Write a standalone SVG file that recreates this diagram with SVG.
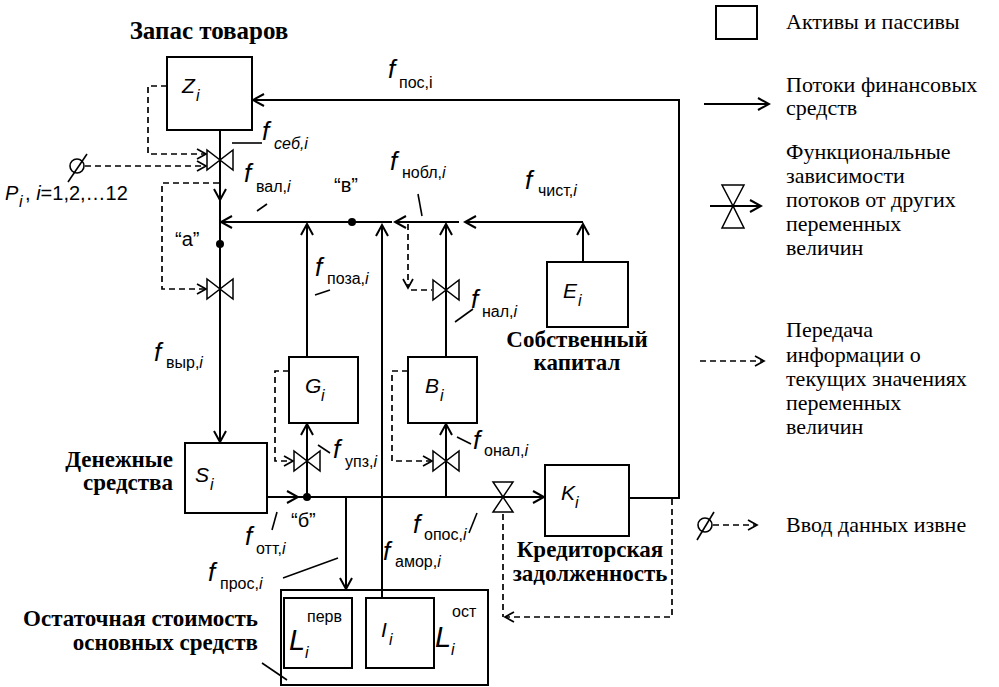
<svg xmlns="http://www.w3.org/2000/svg" width="999" height="687" viewBox="0 0 999 687">
<style>
.ln{stroke:#000;stroke-width:2;fill:none}
.ds{stroke:#000;stroke-width:1.7;fill:none;stroke-dasharray:6 4}
.th{stroke:#000;stroke-width:1.6;fill:none}
.bx{fill:#fff;stroke:#000;stroke-width:2}
.vl{fill:#fff;stroke:#000;stroke-width:1.5}
.dot{fill:#000}
.f{font-family:"Liberation Sans",Arial,sans-serif;font-style:italic;font-size:26px}
.sb{font-family:"Liberation Sans",Arial,sans-serif;font-size:16px}
.nm{font-family:"Liberation Sans",Arial,sans-serif;font-style:italic;font-size:21px}
.pt{font-family:"Liberation Sans",Arial,sans-serif;font-size:20px}
.bl{font-family:"Liberation Serif","Times New Roman",serif;font-weight:bold;font-size:23px}
.lg{font-family:"Liberation Serif","Times New Roman",serif;font-size:22px}
</style>
<defs>
<marker id="a" viewBox="0 0 14 14" refX="12" refY="7" markerWidth="14" markerHeight="14" orient="auto" markerUnits="userSpaceOnUse">
<path d="M1,1 L12,7 L1,13" fill="none" stroke="#000" stroke-width="2"/>
</marker>
<marker id="d" viewBox="0 0 12 12" refX="10" refY="6" markerWidth="12" markerHeight="12" orient="auto" markerUnits="userSpaceOnUse">
<path d="M1,1 L10,6 L1,11" fill="none" stroke="#000" stroke-width="1.7"/>
</marker>
</defs>
<rect width="999" height="687" fill="#fff"/>

<g id="connectors">
<path class="ln" d="M220,130 V200" marker-end="url(#a)"/>
<path class="ln" d="M220,200 V442" marker-end="url(#a)"/>
<path class="ln" d="M392,222 H221" marker-end="url(#a)"/>
<path class="ln" d="M459,222 H395" marker-end="url(#a)"/>
<path class="ln" d="M583,222 H465" marker-end="url(#a)"/>
<path class="ln" d="M307,357 V224" marker-end="url(#a)"/>
<path class="ln" d="M382,598 V225" marker-end="url(#a)"/>
<path class="ln" d="M446,357 V224" marker-end="url(#a)"/>
<path class="ln" d="M583,262 V224" marker-end="url(#a)"/>
<path class="ln" d="M267,497 H298" marker-end="url(#a)"/>
<path class="ln" d="M298,497 H544" marker-end="url(#a)"/>
<path class="ln" d="M307,497 V424" marker-end="url(#a)"/>
<path class="ln" d="M446,497 V424" marker-end="url(#a)"/>
<path class="ln" d="M346,497 V589" marker-end="url(#a)"/>
<path class="ln" d="M629,498 H679 V100 H253" marker-end="url(#a)"/>
<path class="ds" d="M167,86 H148 V154 H206" marker-end="url(#d)"/>
<path class="ds" d="M85,166 H206" marker-end="url(#d)"/>
<path class="ds" d="M219,183 H162 V289 H206" marker-end="url(#d)"/>
<path class="ds" d="M289,371 H275 V461 H293" marker-end="url(#d)"/>
<path class="ds" d="M408,371 H392 V461 H432" marker-end="url(#d)"/>
<path class="ds" d="M408,224 V288" marker-end="url(#d)"/>
<path class="ds" d="M411,290 H432"/>
<path class="ds" d="M672,499 V617 H505" marker-end="url(#d)"/>
<path class="ds" d="M503,514 V617"/>
<circle cx="77" cy="166" r="7" class="th"/>
<path class="th" d="M68,182 L87,154"/>
</g>

<g id="valves">
<path class="vl" d="M207,150 V170 L220,160 Z M233,150 V170 L220,160 Z"/>
<path class="vl" d="M207,279 V299 L220,289 Z M233,279 V299 L220,289 Z"/>
<path class="vl" d="M294,451 V471 L307,461 Z M320,451 V471 L307,461 Z"/>
<path class="vl" d="M433,451 V471 L446,461 Z M459,451 V471 L446,461 Z"/>
<path class="vl" d="M433,280 V300 L446,290 Z M459,280 V300 L446,290 Z"/>
<path class="vl" d="M493,482 H513 L503,497 Z M493,512 H513 L503,497 Z"/>
</g>

<g id="junctions">
<circle class="dot" cx="220" cy="244" r="4"/>
<circle class="dot" cx="352" cy="222" r="4"/>
<circle class="dot" cx="307" cy="497" r="4"/>
<text class="pt" x="175" y="246">“а”</text>
<text class="pt" x="334" y="192">“в”</text>
<text class="pt" x="291" y="527">“б”</text>
</g>

<g id="node-Z">
<rect class="bx" x="167" y="57" width="85" height="73"/>
<text class="nm" x="182" y="93">Z</text><text class="sb" font-style="italic" x="196" y="101">i</text>
<text class="bl" style="font-size:25px" x="209" y="39" text-anchor="middle">Запас товаров</text>
</g>

<g id="node-S">
<rect class="bx" x="185" y="443" width="82" height="70"/>
<text class="nm" x="195" y="482">S</text><text class="sb" font-style="italic" x="210" y="490">i</text>
<text class="bl" x="173" y="467" text-anchor="end">Денежные</text>
<text class="bl" x="173" y="490" text-anchor="end">средства</text>
</g>

<g id="node-G">
<rect class="bx" x="289" y="357" width="69" height="66"/>
<text class="nm" x="305" y="393">G</text><text class="sb" font-style="italic" x="321" y="401">i</text>
</g>

<g id="node-B">
<rect class="bx" x="408" y="357" width="69" height="66"/>
<text class="nm" x="425" y="393">B</text><text class="sb" font-style="italic" x="440" y="401">i</text>
</g>

<g id="node-E">
<rect class="bx" x="547" y="262" width="81" height="65"/>
<text class="nm" x="563" y="298">E</text><text class="sb" font-style="italic" x="578" y="306">i</text>
<text class="bl" x="577" y="347" text-anchor="middle">Собственный</text>
<text class="bl" x="577" y="370" text-anchor="middle">капитал</text>
</g>

<g id="node-K">
<rect class="bx" x="545" y="465" width="84" height="71"/>
<text class="nm" x="561" y="500">K</text><text class="sb" font-style="italic" x="575" y="508">i</text>
<text class="bl" x="590" y="557" text-anchor="middle">Кредиторская</text>
<text class="bl" x="590" y="581" text-anchor="middle">задолженность</text>
</g>

<g id="node-L">
<rect class="bx" x="281" y="590" width="207" height="95"/>
<rect class="bx" x="284" y="598" width="68" height="70"/>
<rect class="bx" x="366" y="598" width="68" height="70"/>
<path class="ln" d="M382,598 V590"/>
<text class="nm" style="font-size:29px" x="289" y="650">L</text><text class="sb" font-style="italic" x="305" y="658">i</text><text class="sb" x="307" y="622">перв</text>
<text class="nm" x="381" y="637">I</text><text class="sb" font-style="italic" x="389" y="645">i</text>
<text class="nm" style="font-size:29px" x="435" y="647">L</text><text class="sb" font-style="italic" x="451" y="655">i</text><text class="sb" x="452" y="617">ост</text>
<text class="bl" x="258" y="626" text-anchor="end">Остаточная стоимость</text>
<text class="bl" x="258" y="650" text-anchor="end">основных средств</text>
<path class="th" d="M262,663 L287,680"/>
</g>

<g id="flow-labels">
<text class="f" x="388" y="78">f</text><text class="sb" x="399" y="88">пос,i</text>
<text class="f" x="262" y="140">f</text><text class="sb" font-style="italic" x="274" y="149">себ,i</text>
<path class="th" d="M232,143 H262"/>
<text class="f" x="244" y="182">f</text><text class="sb" x="256" y="192">вал,<tspan font-style="italic">i</tspan></text>
<path class="th" d="M257,211 L267,204"/>
<text class="f" x="390" y="170">f</text><text class="sb" x="402" y="178">нобл,<tspan font-style="italic">i</tspan></text>
<path class="th" d="M418,194 L422,216"/>
<text class="f" x="525" y="189">f</text><text class="sb" x="538" y="196">чист,<tspan font-style="italic">i</tspan></text>
<text class="f" x="154" y="361">f</text><text class="sb" x="166" y="368">выр,<tspan font-style="italic">i</tspan></text>
<text class="f" x="315" y="276">f</text><text class="sb" x="327" y="284">поза,<tspan font-style="italic">i</tspan></text>
<path class="th" d="M315,295 L330,290"/>
<text class="f" x="471" y="308">f</text><text class="sb" x="482" y="317">нал,<tspan font-style="italic">i</tspan></text>
<path class="th" d="M455,322 L473,309"/>
<text class="f" x="333" y="458">f</text><text class="sb" x="345" y="467">упз,<tspan font-style="italic">i</tspan></text>
<path class="th" d="M318,445 L330,453"/>
<text class="f" x="473" y="449">f</text><text class="sb" x="484" y="456">онал,<tspan font-style="italic">i</tspan></text>
<path class="th" d="M457,437 L471,444"/>
<text class="f" x="413" y="533">f</text><text class="sb" x="424" y="540">опос,<tspan font-style="italic">i</tspan></text>
<path class="th" d="M469,533 L477,513"/>
<text class="f" x="245" y="545">f</text><text class="sb" x="256" y="554">отт,<tspan font-style="italic">i</tspan></text>
<path class="th" d="M272,530 L277,512"/>
<text class="f" x="208" y="581">f</text><text class="sb" x="220" y="589">прос,<tspan font-style="italic">i</tspan></text>
<path class="th" d="M283,578 L338,558"/>
<text class="f" x="383" y="560">f</text><text class="sb" x="395" y="567">амор,<tspan font-style="italic">i</tspan></text>
<text class="pt" x="5" y="200"><tspan font-style="italic">P</tspan></text><text class="sb" font-style="italic" x="19" y="207">i</text><text class="pt" x="25" y="200">, <tspan font-style="italic">i</tspan>=1,2,…12</text>
</g>

<g id="legend">
<rect class="bx" x="716" y="6" width="41" height="33"/>
<text class="lg" x="786" y="29">Активы и пассивы</text>
<path class="ln" d="M704,104 H769" marker-end="url(#a)"/>
<text class="lg" x="786" y="92">Потоки финансовых</text>
<text class="lg" x="786" y="115">средств</text>
<path class="ln" d="M710,206 H761" marker-end="url(#a)"/>
<path class="vl" d="M722,185 H744 L733,206 Z M722,228 H744 L733,206 Z"/>
<text class="lg" x="786" y="159">Функциональные</text>
<text class="lg" x="786" y="183">зависимости</text>
<text class="lg" x="786" y="207">потоков от других</text>
<text class="lg" x="786" y="231">переменных</text>
<text class="lg" x="786" y="255">величин</text>
<path class="ds" d="M700,361 H764" marker-end="url(#d)"/>
<text class="lg" x="786" y="337">Передача</text>
<text class="lg" x="786" y="362">информации о</text>
<text class="lg" x="786" y="386">текущих значениях</text>
<text class="lg" x="786" y="410">переменных</text>
<text class="lg" x="786" y="434">величин</text>
<circle cx="705" cy="525" r="7" class="th"/>
<path class="th" d="M697,540 L714,512"/>
<path class="ds" d="M713,525 H757" marker-end="url(#d)"/>
<text class="lg" x="786" y="532">Ввод данных извне</text>
</g>
</svg>
